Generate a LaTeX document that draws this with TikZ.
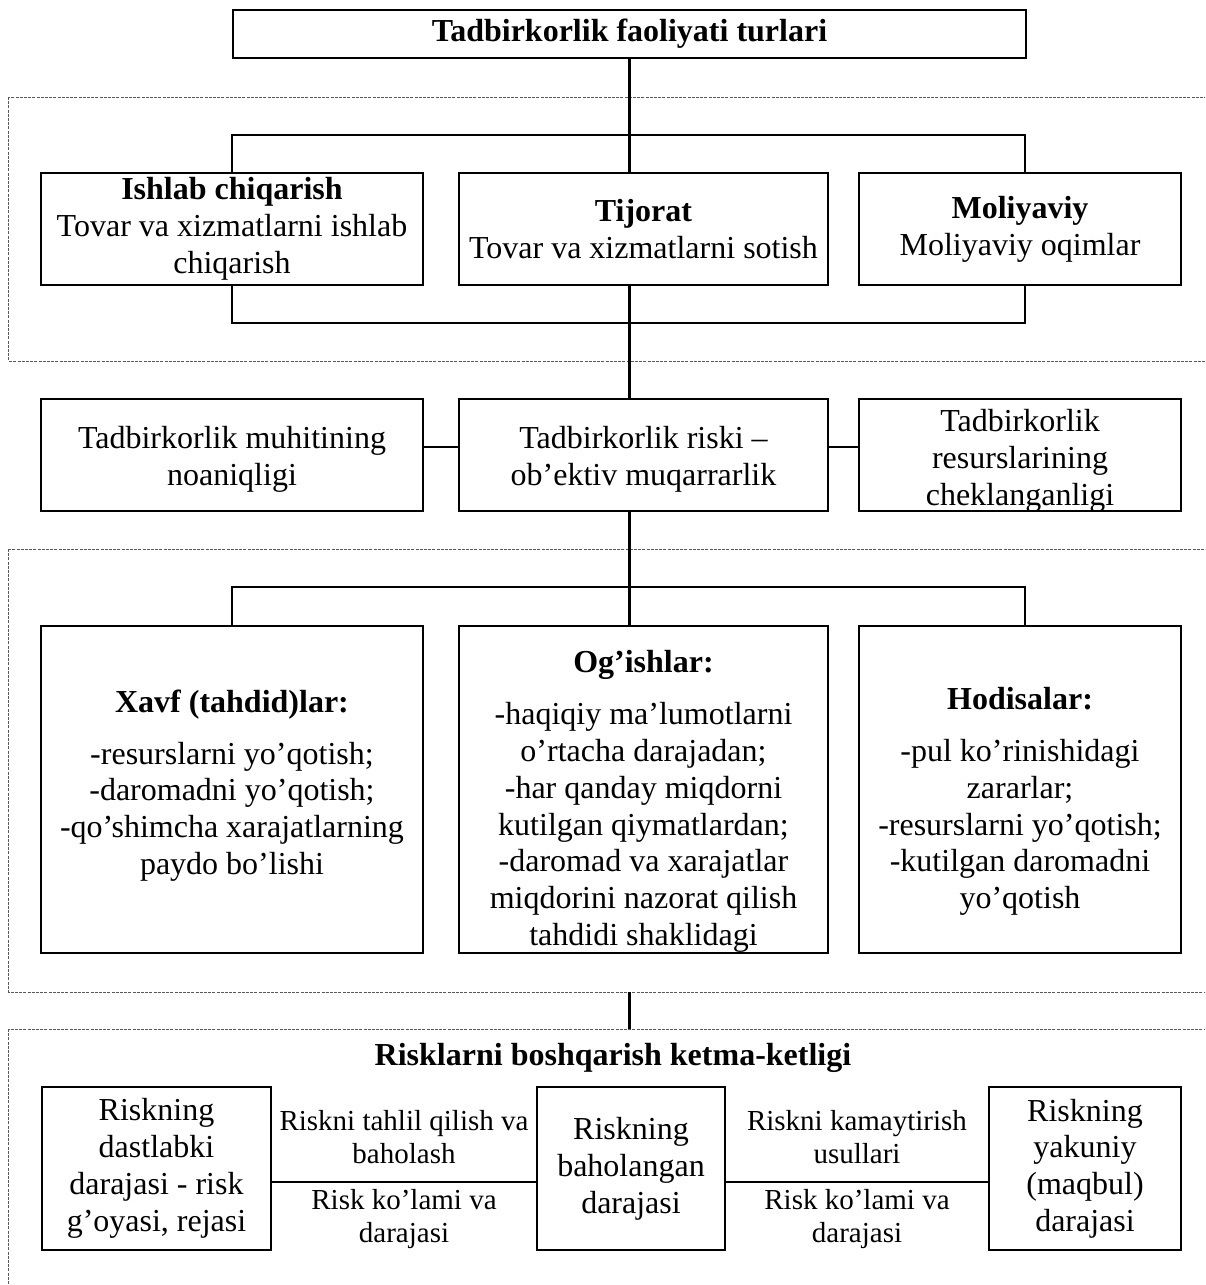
\documentclass[tikz,border=0pt]{standalone}
\usepackage{fontspec}
\setmainfont{Liberation Serif}
\begin{document}
\begin{tikzpicture}[x=0.5pt,y=-0.5pt,
  box/.style={draw,line width=1.1pt,align=center,inner sep=0pt,
    font=\fontsize{16pt}{18.4pt}\selectfont},
  frm/.style={draw,line width=1.1pt,inner sep=0pt},
  txt/.style={align=center,inner sep=0pt,
    font=\fontsize{16pt}{18.4pt}\selectfont},
  lbl/.style={align=center,inner sep=0pt,
    font=\fontsize{14.5pt}{16.7pt}\selectfont},
  conn/.style={line width=1.1pt},
  groupframe/.style={draw=black!65,line width=0.5pt,dash pattern=on 1.5pt off 0.6pt}]

\useasboundingbox (0,0) rectangle (1205,1285);

% dashed group frames (they run past the right and bottom edges)
\begin{scope}
  \clip (0,0) rectangle (1205,1285);
  \draw[groupframe] (8.5,97) rectangle (1230,361);
  \draw[groupframe] (8.5,549) rectangle (1230,992);
  \draw[groupframe] (8.5,1029) rectangle (1230,1320);
\end{scope}

% title
\node[box,minimum width=396.5pt,minimum height=24pt] (T) at (629.5,34)
  {\textbf{Tadbirkorlik faoliyati turlari}};

% kinds of activity
\node[box,minimum width=191pt,minimum height=56pt] (A1) at (232,229)
  {\textbf{Ishlab chiqarish}\\Tovar va xizmatlarni ishlab\\chiqarish};
\node[box,minimum width=184.5pt,minimum height=56pt] (B1) at (643.5,229)
  {\textbf{Tijorat}\\Tovar va xizmatlarni sotish};
\node[box,minimum width=161pt,minimum height=56pt] (C1) at (1020,229)
  {\textbf{Moliyaviy}\\Moliyaviy oqimlar};

% risk as an objective necessity
\node[frm,minimum width=191pt,minimum height=56pt] (A2) at (232,455) {};
\node[frm,minimum width=184.5pt,minimum height=56pt] (B2) at (643.5,455) {};
\node[frm,minimum width=161pt,minimum height=56pt] (C2) at (1020,455) {};
\node[txt] (A2t) at ([yshift=-2pt]A2.center) {Tadbirkorlik muhitining\\noaniqligi};
\node[txt] (B2t) at ([yshift=-2pt]B2.center) {Tadbirkorlik riski –\\ob’ektiv muqarrarlik};
\node[txt] (C2t) at ([yshift=-3pt]C2.center) {Tadbirkorlik\\resurslarining\\cheklanganligi};

% forms of risk
\node[frm,minimum width=191pt,minimum height=163.5pt] (A3) at (232,789.5) {};
\node[frm,minimum width=184.5pt,minimum height=163.5pt] (B3) at (643.5,789.5) {};
\node[frm,minimum width=161pt,minimum height=163.5pt] (C3) at (1020,789.5) {};
\node[txt] (A3t) at ([yshift=2pt]A3.center)
  {\textbf{Xavf (tahdid)lar:}\\[7.5pt]-resurslarni yo’qotish;\\-daromadni yo’qotish;\\-qo’shimcha xarajatlarning\\paydo bo’lishi};
\node[txt] (B3t) at ([yshift=-6pt]B3.center)
  {\textbf{Og’ishlar:}\\[7.5pt]-haqiqiy ma’lumotlarni\\o’rtacha darajadan;\\-har qanday miqdorni\\kutilgan qiymatlardan;\\-daromad va xarajatlar\\miqdorini nazorat qilish\\tahdidi shaklidagi};
\node[txt] (C3t) at ([yshift=-6pt]C3.center)
  {\textbf{Hodisalar:}\\[7.5pt]-pul ko’rinishidagi\\zararlar;\\-resurslarni yo’qotish;\\-kutilgan daromadni\\yo’qotish};

% risk management sequence
\node[anchor=base,inner sep=0pt,font=\fontsize{16pt}{18.4pt}\selectfont\bfseries] (S) at (613,1065)
  {Risklarni boshqarish ketma-ketligi};
\node[box,minimum width=114.5pt,minimum height=81.5pt] (D1) at (156.5,1168.5)
  {Riskning\\dastlabki\\darajasi - risk\\g’oyasi, rejasi};
\node[box,minimum width=94pt,minimum height=81.5pt] (D2) at (631,1168.5)
  {Riskning\\baholangan\\darajasi};
\node[box,minimum width=96pt,minimum height=81.5pt] (D3) at (1085,1168.5)
  {Riskning\\yakuniy\\(maqbul)\\darajasi};

\node[lbl] (L1) at (404,1137) {Riskni tahlil qilish va\\baholash};
\node[lbl] (L2) at (404,1219) {Risk ko’lami va\\darajasi};
\node[lbl] (L3) at (857,1137) {Riskni kamaytirish\\usullari};
\node[lbl] (L4) at (857,1219) {Risk ko’lami va\\darajasi};

% helper levels for connectors
\coordinate (k1) at (629.5,135);
\coordinate (k2) at (629.5,323);
\coordinate (k3) at (629.5,587);
\coordinate (RR) at (0,447);
\coordinate (LL) at (0,1182);
\coordinate (f2) at (629.5,992);
\coordinate (f3) at (629.5,1029);

% connectors
\draw[conn] (T.south) -- (T.south |- B1.north);
\draw[conn] (A1.north) |- (k1) -| ([xshift=2.5pt]C1.north);
\draw[conn] (A1.south) |- (k2) -| ([xshift=2.5pt]C1.south);
\draw[conn] (T.south |- B1.south) -- (T.south |- B2.north);
\draw[conn] (A2.east |- RR) -- (B2.west |- RR);
\draw[conn] (B2.east |- RR) -- (C2.west |- RR);
\draw[conn] (T.south |- B2.south) -- (T.south |- B3.north);
\draw[conn] (A3.north) |- (k3) -| ([xshift=2.5pt]C3.north);
\draw[conn] (f2) -- (f3);
\draw[conn] (D1.east |- LL) -- (D2.west |- LL);
\draw[conn] (D2.east |- LL) -- (D3.west |- LL);
\end{tikzpicture}
\end{document}
